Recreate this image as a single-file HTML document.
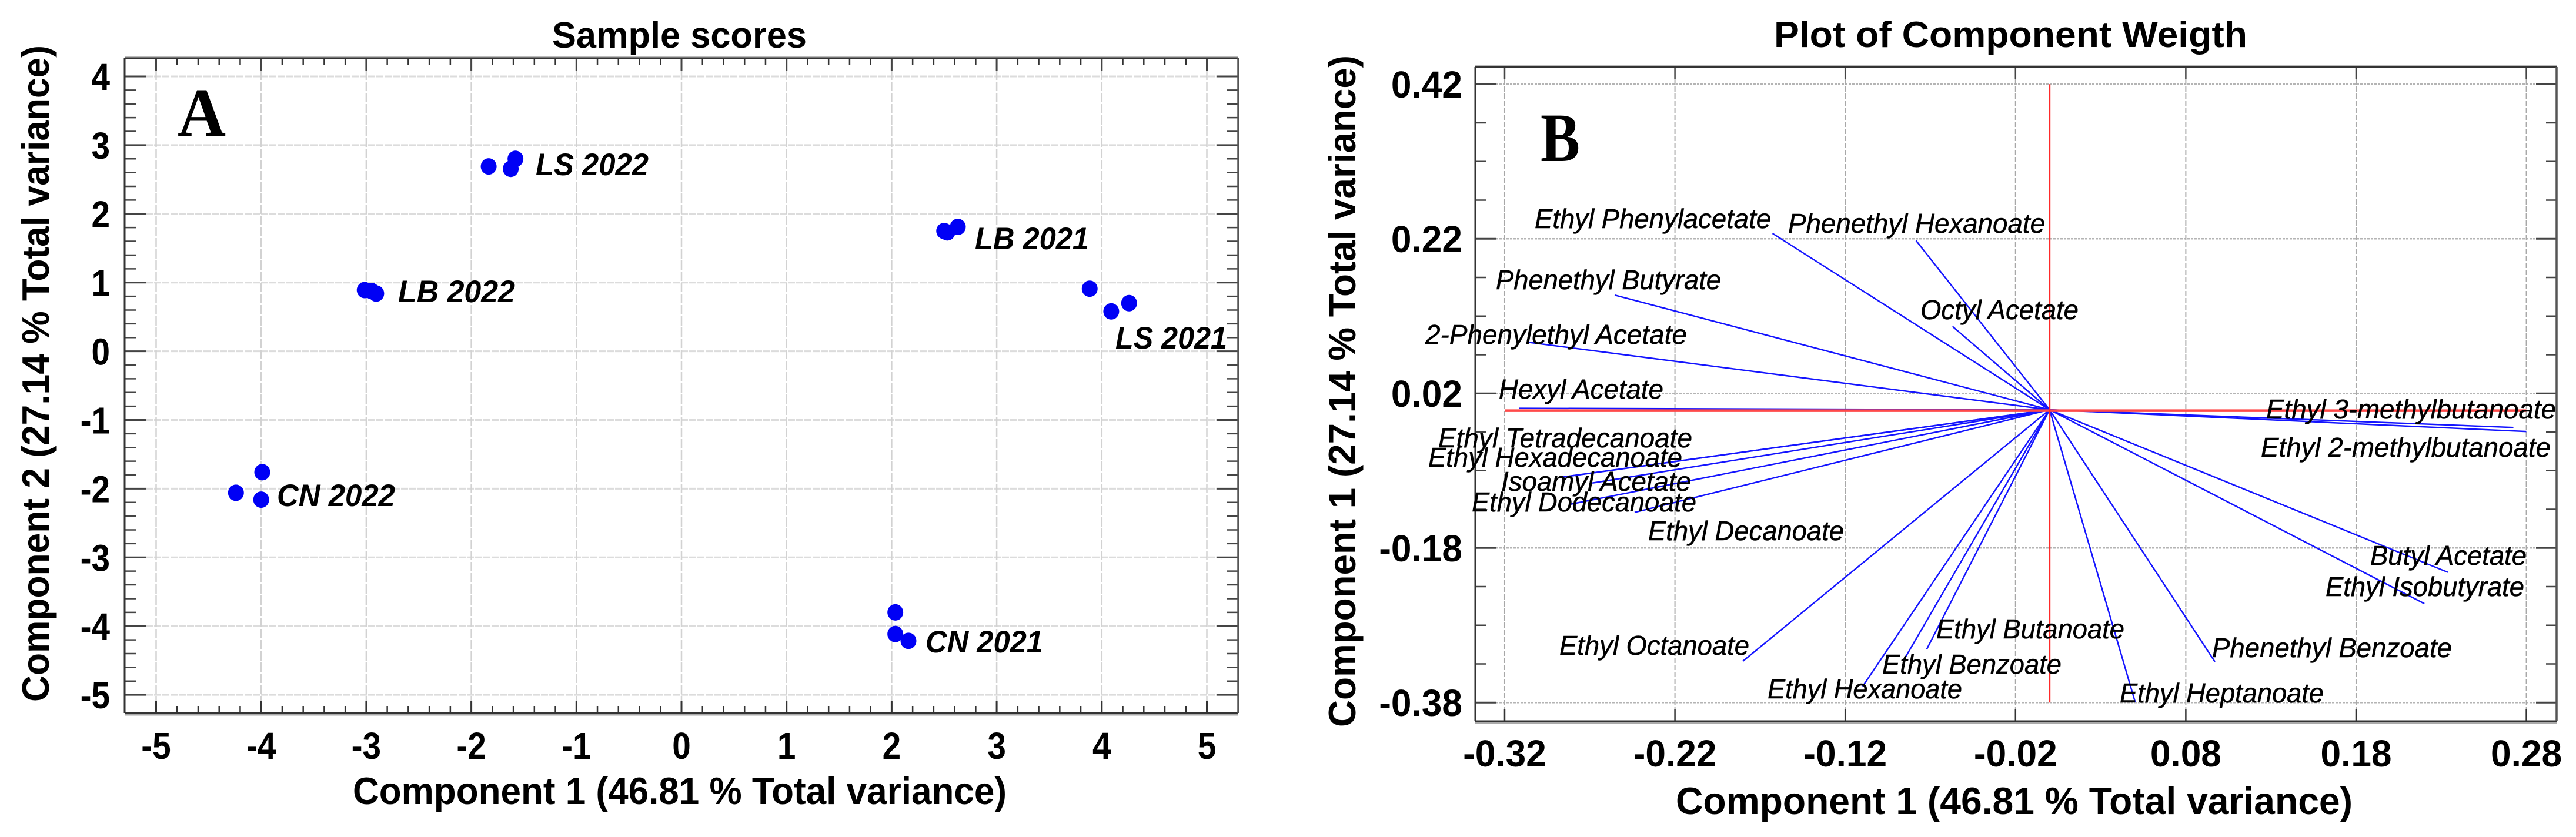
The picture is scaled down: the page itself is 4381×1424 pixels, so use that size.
<!DOCTYPE html>
<html lang="en">
<head>
<meta charset="utf-8">
<title>PCA sample scores and component weights</title>
<style>
html,body{margin:0;padding:0;background:#fff;width:4381px;height:1424px;overflow:hidden}
svg{display:block}
text{font-family:"Liberation Sans",sans-serif;fill:#000}
.title{font-weight:bold;font-size:62px}
.axis{font-weight:bold;font-size:65px}
.group{font-weight:bold;font-style:italic;font-size:53px}
.load{font-style:italic;font-size:46px;stroke:#000;stroke-width:.5px}
.panel{font-family:"Liberation Serif",serif;font-weight:bold;font-size:118px}
</style>
</head>
<body>
<svg id="fig" xmlns="http://www.w3.org/2000/svg" width="4381" height="1424" viewBox="0 0 4381 1424">
  <rect x="0" y="0" width="4381" height="1424" fill="#fff"/>
  <g id="chartA"></g>
  <g id="chartB"></g>

  <g>
    <text class="title" x="939" y="81" textLength="433" lengthAdjust="spacingAndGlyphs">Sample scores</text>
    <text class="axis" x="600" y="1368" textLength="1112" lengthAdjust="spacingAndGlyphs">Component 1 (46.81 % Total variance)</text>
    <text class="axis" transform="translate(83,1194) rotate(-90)" x="0" y="0" textLength="1117" lengthAdjust="spacingAndGlyphs">Component 2 (27.14 % Total variance)</text>
    <text class="panel" x="302" y="231" textLength="82" lengthAdjust="spacingAndGlyphs">A</text>
    <text class="group" x="911" y="298" textLength="192" lengthAdjust="spacingAndGlyphs">LS 2022</text>
    <text class="group" x="677" y="514" textLength="199" lengthAdjust="spacingAndGlyphs">LB 2022</text>
    <text class="group" x="1658" y="424" textLength="194" lengthAdjust="spacingAndGlyphs">LB 2021</text>
    <text class="group" x="1897" y="593" textLength="190" lengthAdjust="spacingAndGlyphs">LS 2021</text>
    <text class="group" x="471" y="861" textLength="201" lengthAdjust="spacingAndGlyphs">CN 2022</text>
    <text class="group" x="1574" y="1110" textLength="200" lengthAdjust="spacingAndGlyphs">CN 2021</text>
  </g>

  <g>
    <text class="title" x="3017" y="80" textLength="805" lengthAdjust="spacingAndGlyphs">Plot of Component Weigth</text>
    <text class="axis" x="2850" y="1385" textLength="1151" lengthAdjust="spacingAndGlyphs">Component 1 (46.81 % Total variance)</text>
    <text class="axis" transform="translate(2305,1237) rotate(-90)" x="0" y="0" textLength="1143" lengthAdjust="spacingAndGlyphs">Component 1 (27.14 % Total variance)</text>
    <text class="panel" x="2620" y="274" textLength="67" lengthAdjust="spacingAndGlyphs">B</text>
    <text class="load" x="2610" y="388" textLength="402" lengthAdjust="spacingAndGlyphs">Ethyl Phenylacetate</text>
    <text class="load" x="3041" y="396" textLength="437" lengthAdjust="spacingAndGlyphs">Phenethyl Hexanoate</text>
    <text class="load" x="2544" y="492" textLength="383" lengthAdjust="spacingAndGlyphs">Phenethyl Butyrate</text>
    <text class="load" x="3266" y="543" textLength="269" lengthAdjust="spacingAndGlyphs">Octyl Acetate</text>
    <text class="load" x="2424" y="585" textLength="445" lengthAdjust="spacingAndGlyphs">2-Phenylethyl Acetate</text>
    <text class="load" x="2549" y="678" textLength="280" lengthAdjust="spacingAndGlyphs">Hexyl Acetate</text>
    <text class="load" x="2446" y="761" textLength="432" lengthAdjust="spacingAndGlyphs">Ethyl Tetradecanoate</text>
    <text class="load" x="2429" y="794" textLength="432" lengthAdjust="spacingAndGlyphs">Ethyl Hexadecanoate</text>
    <text class="load" x="2553" y="835" textLength="323" lengthAdjust="spacingAndGlyphs">Isoamyl Acetate</text>
    <text class="load" x="2503" y="870" textLength="382" lengthAdjust="spacingAndGlyphs">Ethyl Dodecanoate</text>
    <text class="load" x="2803" y="919" textLength="333" lengthAdjust="spacingAndGlyphs">Ethyl Decanoate</text>
    <text class="load" x="2652" y="1114" textLength="323" lengthAdjust="spacingAndGlyphs">Ethyl Octanoate</text>
    <text class="load" x="3293" y="1086" textLength="320" lengthAdjust="spacingAndGlyphs">Ethyl Butanoate</text>
    <text class="load" x="3201" y="1146" textLength="305" lengthAdjust="spacingAndGlyphs">Ethyl Benzoate</text>
    <text class="load" x="3006" y="1188" textLength="331" lengthAdjust="spacingAndGlyphs">Ethyl Hexanoate</text>
    <text class="load" x="3605" y="1195" textLength="347" lengthAdjust="spacingAndGlyphs">Ethyl Heptanoate</text>
    <text class="load" x="3762" y="1118" textLength="408" lengthAdjust="spacingAndGlyphs">Phenethyl Benzoate</text>
    <text class="load" x="3955" y="1014" textLength="338" lengthAdjust="spacingAndGlyphs">Ethyl Isobutyrate</text>
    <text class="load" x="4031" y="961" textLength="266" lengthAdjust="spacingAndGlyphs">Butyl Acetate</text>
    <text class="load" x="3845" y="777" textLength="493" lengthAdjust="spacingAndGlyphs">Ethyl 2-methylbutanoate</text>
    <text class="load" x="3854" y="712" textLength="493" lengthAdjust="spacingAndGlyphs">Ethyl 3-methylbutanoate</text>
  </g>
</svg>
<script>
// Sample scores (panel A)
var scoreX = [-4.24,-3.99,-4.00, -1.835,-1.625,-1.58, -3.015,-2.95,-2.905, 2.50,2.53,2.63, 3.885,4.09,4.26, 2.035,2.035,2.16];
var scoreY = [-2.06,-1.76,-2.16, 2.69,2.655,2.80, 0.89,0.877,0.84, 1.75,1.73,1.81, 0.91,0.58,0.70, -3.80,-4.115,-4.215];
var scoreSamples = ['cn-2022-a','cn-2022-b','cn-2022-c','ls-2022-a','ls-2022-b','ls-2022-c','lb-2022-a','lb-2022-b','lb-2022-c','lb-2021-a','lb-2021-b','lb-2021-c','ls-2021-a','ls-2021-b','ls-2021-c','cn-2021-a','cn-2021-b','cn-2021-c'];
var scoreXTicks = [-5,-4,-3,-2,-1,0,1,2,3,4,5];
var scoreYTicks = [4,3,2,1,0,-1,-2,-3,-4,-5];

// Component weights (panel B)
var weightNames = ['ethyl-phenylacetate','phenethyl-hexanoate','phenethyl-butyrate','octyl-acetate','2-phenylethyl-acetate','hexyl-acetate','ethyl-tetradecanoate','ethyl-hexadecanoate','isoamyl-acetate','ethyl-dodecanoate','ethyl-decanoate','ethyl-octanoate','ethyl-hexanoate','ethyl-benzoate','ethyl-butanoate','ethyl-heptanoate','phenethyl-benzoate','ethyl-isobutyrate','butyl-acetate','ethyl-3-methylbutanoate','ethyl-2-methylbutanoate'];
var weightX = [-0.1627,-0.0784,-0.2554,-0.0570,-0.3070,-0.3115,-0.2865,-0.2858,-0.2685,-0.2817,-0.2437,-0.1801,-0.1098,-0.0850,-0.0721,0.0503,0.0971,0.2201,0.2339,0.2724,0.2800];
var weightY = [0.2269,0.2176,0.1471,0.1066,0.0863,0.0007,-0.0885,-0.0882,-0.0960,-0.1236,-0.1340,-0.3265,-0.3592,-0.3227,-0.3109,-0.3797,-0.3273,-0.2521,-0.2115,-0.0241,-0.0294];
var weightXTicks = [-0.32,-0.22,-0.12,-0.02,0.08,0.18,0.28];
var weightXTickLabels = ['-0.32','-0.22','-0.12','-0.02','0.08','0.18','0.28'];
var weightYTicks = [0.42,0.22,0.02,-0.18,-0.38];
var weightYTickLabels = ['0.42','0.22','0.02','-0.18','-0.38'];
var weightOrigin = [0, -0.0012];

var NS = 'http://www.w3.org/2000/svg';

function line(parent, x1, y1, x2, y2, stroke, width, dash, name) {
  var el = document.createElementNS(NS, 'line');
  el.setAttribute('x1', x1);
  el.setAttribute('y1', y1);
  el.setAttribute('x2', x2);
  el.setAttribute('y2', y2);
  el.setAttribute('stroke', stroke);
  el.setAttribute('stroke-width', width);
  if (dash) el.setAttribute('stroke-dasharray', dash);
  
  
  parent.appendChild(el);
  return el;
}

function labelWidth(str, size) {
  var w = 0;
  for (var i = 0; i < str.length; i++) {
    var c = str.charAt(i);
    w += c === '-' ? 0.333 : (c === '.' ? 0.278 : 0.556);
  }
  return w * size;
}

function tickText(parent, str, x, y, anchor, stretch, name) {
  var el = document.createElementNS(NS, 'text');
  el.setAttribute('x', x);
  el.setAttribute('y', y);
  el.setAttribute('text-anchor', anchor);
  el.setAttribute('font-size', '64');
  el.setAttribute('font-weight', 'bold');
  el.setAttribute('textLength', labelWidth(str, 61) * stretch);
  el.setAttribute('lengthAdjust', 'spacingAndGlyphs');
  
  
  el.textContent = str;
  parent.appendChild(el);
}

function frame(parent, L, T, R, B, name) {
  line(parent, L, B + 3, R, B + 3, '#aaa', 3, null, name + '-shadow-bottom');
  line(parent, L, T - 2, R, T - 2, '#bbb', 2, null, name + '-shadow-top');
  line(parent, L, T, R, T, '#333', 3, null, name + '-top');
  line(parent, L, B, R, B, '#333', 3, null, name + '-bottom');
  line(parent, L, T, L, B, '#333', 3, null, name + '-left');
  line(parent, R, T, R, B, '#555', 3.5, null, name + '-right');
}

/* ---------- Panel A ---------- */
(function () {
  var g = document.getElementById('chartA');
  var L = 212, T = 99, R = 2106, B = 1213;
  function sx(v) { return 1159 + v * 178.7; }
  function sy(v) { return 597.6 - v * 116.9; }

  scoreYTicks.forEach(function (t) {
    line(g, L + 36, sy(t), R - 36, sy(t), '#dcdcdc', 3, '12 2', 'y-gridline');
  });
  scoreXTicks.forEach(function (t) {
    line(g, sx(t), T + 21, sx(t), B - 21, '#d2d2d2', 2.5, '16 3', 'x-gridline');
  });

  scoreXTicks.forEach(function (t, i) {
    line(g, sx(t), B, sx(t), B - 21, '#333', 3, null, 'x-major-tick');
    line(g, sx(t), T, sx(t), T + 21, '#444', 3, null, 'x-major-tick-top');
    tickText(g, String(t), sx(t), 1291, 'middle', 0.93, 'x-tick-label');
    if (i < scoreXTicks.length - 1) {
      for (var k = 1; k < 5; k++) {
        var v = t + k / 5;
        line(g, sx(v), B, sx(v), B - 12, '#333', 2.5, null, 'x-minor-tick');
        line(g, sx(v), T, sx(v), T + 12, '#333', 2.5, null, 'x-minor-tick-top');
      }
    }
  });
  scoreYTicks.forEach(function (t, i) {
    line(g, L, sy(t), L + 36, sy(t), '#444', 3, null, 'y-major-tick');
    line(g, R, sy(t), R - 36, sy(t), '#444', 3, null, 'y-major-tick-right');
    tickText(g, String(t), 187, sy(t) + 23, 'end', 0.93, 'y-tick-label');
    if (i < scoreYTicks.length - 1) {
      for (var k = 1; k < 5; k++) {
        var v = t - k / 5;
        line(g, L, sy(v), L + 19, sy(v), '#444', 2.5, null, 'y-minor-tick');
        line(g, R, sy(v), R - 19, sy(v), '#444', 2.5, null, 'y-minor-tick-right');
      }
    }
  });
  frame(g, L, T, R, B, 'chart-a-frame');

  scoreX.forEach(function (x, i) {
    var el = document.createElementNS(NS, 'ellipse');
    el.setAttribute('cx', sx(x));
    el.setAttribute('cy', sy(scoreY[i]));
    el.setAttribute('rx', 13.5);
    el.setAttribute('ry', 14);
    el.setAttribute('fill', '#0000f5');
    
    
    g.appendChild(el);
  });
})();

/* ---------- Panel B ---------- */
(function () {
  var g = document.getElementById('chartB');
  var L = 2509, T = 114, R = 4348, B = 1227;
  function sx(v) { return 3485.7 + v * 2896; }
  function sy(v) { return 695.5 - v * 1315; }

  weightYTicks.forEach(function (t) {
    line(g, L + 35, sy(t), R - 35, sy(t), '#b4b4b4', 2.5, '4 2', 'y-gridline');
  });
  weightXTicks.forEach(function (t) {
    line(g, sx(t), T + 21, sx(t), B - 21, '#a8a8a8', 2, '9 3', 'x-gridline');
  });

  weightXTicks.forEach(function (t, i) {
    line(g, sx(t), B, sx(t), B - 21, '#333', 2.5, null, 'x-major-tick');
    line(g, sx(t), T, sx(t), T + 21, '#444', 2.5, null, 'x-major-tick-top');
    tickText(g, weightXTickLabels[i], sx(t), 1304, 'middle', 1.02, 'x-tick-label');
  });
  weightYTicks.forEach(function (t, i) {
    line(g, L, sy(t), L + 35, sy(t), '#444', 3, null, 'y-major-tick');
    line(g, R, sy(t), R - 35, sy(t), '#444', 3, null, 'y-major-tick-right');
    tickText(g, weightYTickLabels[i], 2487, sy(t) + 23, 'end', 1.02, 'y-tick-label');
    if (i < weightYTicks.length - 1) {
      for (var k = 1; k < 4; k++) {
        var v = t - k * 0.05;
        line(g, L, sy(v), L + 18, sy(v), '#444', 2.5, null, 'y-minor-tick');
        line(g, R, sy(v), R - 18, sy(v), '#444', 2.5, null, 'y-minor-tick-right');
      }
    }
  });
  frame(g, L, T, R, B, 'chart-b-frame');

  var ox = sx(weightOrigin[0]), oy = sy(weightOrigin[1]);

  weightX.forEach(function (x, i) {
    line(g, ox, oy, sx(x), sy(weightY[i]), '#1414ff', 2.5, null, 'vector-' + weightNames[i]);
  });

  line(g, sx(-0.32), oy + 1.5, sx(0.28), oy + 1.5, '#ff4a4a', 4.5, null, 'horizontal-zero-axis');
  line(g, ox, sy(0.42), ox, sy(-0.38), '#ff2a2a', 3, null, 'vertical-zero-axis');
})();
</script>
</body>
</html>
